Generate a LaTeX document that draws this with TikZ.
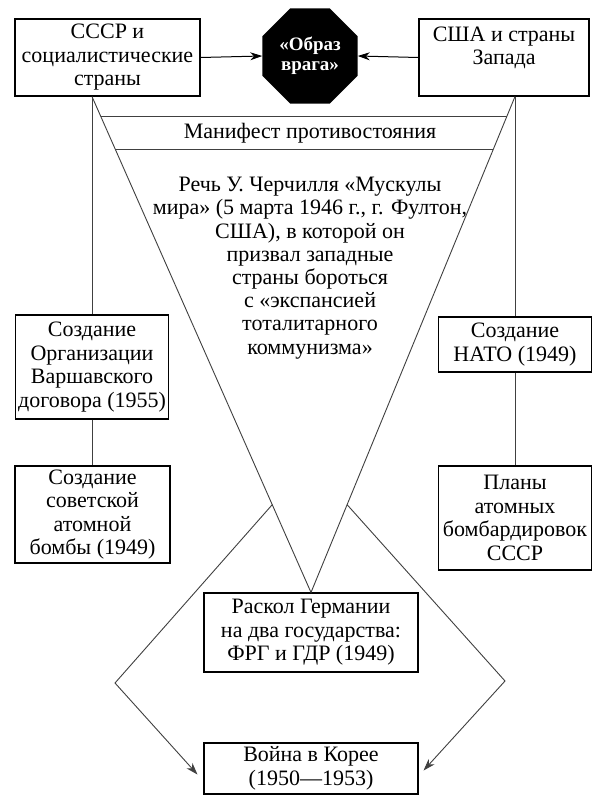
\documentclass[tikz,border=0pt]{standalone}
\usepackage{fontspec}
\setmainfont{Liberation Serif}
\newfontfamily\serifru{Liberation Serif}
\usetikzlibrary{shapes.geometric,arrows.meta,calc}
\begin{document}
\begin{tikzpicture}[x=1pt,y=-1pt,
  box/.style={draw=black,line width=1.1pt,align=center,inner sep=0pt,font=\serifru\fontsize{22}{23.5}\selectfont},
  plain/.style={align=center,inner sep=0pt,font=\serifru\fontsize{22}{23.2}\selectfont},
  conn/.style={draw=black!75,line width=0.9pt},
  arr/.style={draw=black,line width=1pt,-{Stealth[length=12pt,width=8pt]}},
  enemy/.style={regular polygon,regular polygon sides=8,minimum size=103pt,inner sep=0pt,fill=black,text=white,align=center,font=\serifru\bfseries\fontsize{19}{20}\selectfont}
]
\useasboundingbox[fill=white] (0,0) rectangle (600,797);

% top row
\node[box,minimum width=185pt,minimum height=77pt] (ussr) at (107.5,57.5) {СССР и\\социалистические\\страны};
\node[box,minimum width=170pt,minimum height=77pt] (west) at (504,57.5) {США и страны\\Запада\\~};
\node[enemy] (obraz) at (310,56) {«Образ\\врага»};
\draw[arr] (ussr.east) -- (obraz.west);
\draw[arr] (west.west) -- (obraz.east);

% side boxes
\node[box,minimum width=153pt,minimum height=104pt] (warsaw) at (92,367) {Создание\\Организации\\Варшавского\\договора (1955)};
\node[box,minimum width=155pt,minimum height=97pt] (bomb) at (92.5,514.5) {Создание\\советской\\атомной\\бомбы (1949)};
\node[box,minimum width=153pt,minimum height=55pt] (nato) at (515,344.5) {Создание\\НАТО (1949)};
\node[box,minimum width=153pt,minimum height=104pt] (plans) at (515,518) {Планы\\атомных\\бомбардировок\\СССР};

% bottom boxes
\node[box,minimum width=214pt,minimum height=79pt] (germany) at (311,632.5) {Раскол Германии\\на два государства:\\ФРГ и ГДР (1949)};
\node[box,minimum width=214pt,minimum height=51pt] (korea) at (311,768.5) {Война в Корее\\(1950—1953)};

% verticals
\coordinate (tl) at (warsaw.north |- ussr.south);
\coordinate (tr) at (nato.north |- west.south);
\draw[conn] (tl) -- (warsaw.north);
\draw[conn] (warsaw.south) -- (warsaw.south |- bomb.north);
\draw[conn] (tr) -- (nato.north);
\draw[conn] (nato.south) -- (nato.south |- plans.north);

% triangle
\draw[conn] (tl) -- (germany.north) -- (tr);
\draw[conn] ($(tl)!0.0402!(germany.north)$) -- ($(tr)!0.0402!(germany.north)$);
\draw[conn] ($(tl)!0.1066!(germany.north)$) -- ($(tr)!0.1066!(germany.north)$);
\node[plain] (manifest) at (310,133) {Манифест противостояния};
\node[plain] (speech) at (310,268) {Речь У. Черчилля «Мускулы\\мира» (5 марта 1946 г., г. Фултон,\\США), в которой он\\призвал западные\\страны бороться\\с «экспансией\\тоталитарного\\коммунизма»};

% arrows to Korea
\coordinate (ls) at ($(tl)!0.823!(germany.north)$);
\coordinate (rs) at ($(tr)!0.823!(germany.north)$);
\coordinate (lk) at (115,683);
\coordinate (rk) at (505,681);
\coordinate (lt) at ($(korea.west)+(-6,6)$);
\coordinate (rt) at ($(korea.east)+(5,2)$);
\draw[conn,-{Stealth[length=12pt,width=8pt]}] (ls) -- (lk) -- (lt);
\draw[conn,-{Stealth[length=12pt,width=8pt]}] (rs) -- (rk) -- (rt);
\end{tikzpicture}
\end{document}
